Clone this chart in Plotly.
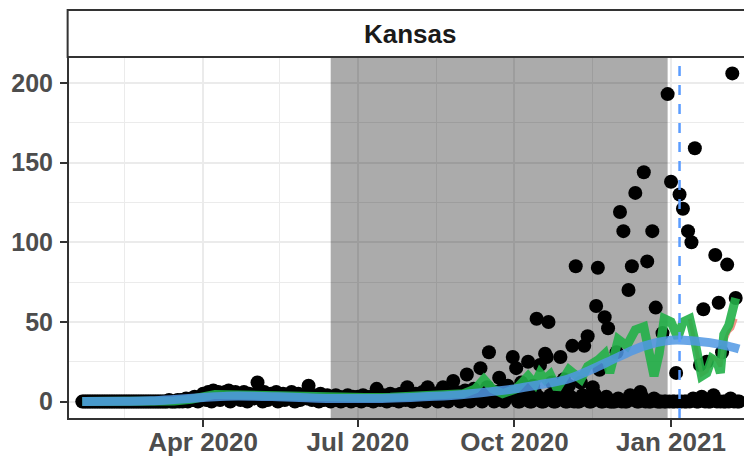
import pandas as pd
import plotly.graph_objects as go

# ---------------- data ----------------
jan20 = [0,0,0,0,0,0,0,0,0,0,0]
feb20 = [0,0,0,0,0,0,0,0,0,0,0,0,0,0,0,0,0,0,0,0,0,0,0,0,0,0,0,0,0]
mar20 = [0,0,0,0,0,0,0,0,0,0,0,1,0,0,0,0,1,0,1,0,1,2,0,1,2,1,3,2,0,2,3]
apr20 = [5,4,1,6,3,0,7,2,4,6,1,5,4,6,2,7,0,3,4,6,2,5,1,4,6,3,0,5,4,3]
may20 = [2,5,12,3,4,0,6,3,1,4,5,2,3,6,0,4,3,5,1,4,3,2,6,4,0,3,5,1,4,2,3]
jun20 = [2,10,3,1,4,2,3,0,5,2,1,3,4,2,0,3,1,4,2,3,0,2,1,3,4,2,0,3,2,1]
jul20 = [3,1,0,4,2,3,1,2,3,0,4,8,2,1,3,4,2,0,3,5,2,1,4,3,0,5,2,3,1,9,2]
aug20 = [3,0,4,5,2,1,3,6,2,0,9,4,2,3,5,1,0,6,4,9,2,3,0,5,4,13,2,6,3,0,5]
sep20 = [4,7,17,2,0,3,8,6,2,5,21,0,4,3,9,31,5,2,0,6,4,15,3,8,0,2,10,5,4,28]
oct20 = [4,21,0,0,12,3,8,2,25,0,0,10,6,52,3,23,0,0,30,28,50,4,12,0,0,8,5,28,6,14,0]
nov20 = [0,10,3,35,0,85,0,0,12,4,35,2,41,0,0,9,5,60,84,20,0,0,53,3,46,0,0,0,0,31]
dec20 = [2,119,0,107,0,0,70,4,85,2,131,0,0,6,3,144,0,88,0,0,107,2,59,0,0,0,43,0,0,193,0]
jan21 = [138,0,0,18,0,130,0,121,0,0,107,0,100,2,159,0,0,23,3,58,0,25,0,0,2,4,92,0,62,0,31]
feb21 = [0,0,86,0,2,206,0,65,0,0]

daily_vals = (jan20 + feb20 + mar20 + apr20 + may20 + jun20 + jul20 + aug20 +
              sep20 + oct20 + nov20 + dec20 + jan21 + feb21)
daily_dates = pd.date_range("2020-01-21", "2021-02-10", freq="D")

green_dates = ["2020-01-21","2020-03-05","2020-03-15","2020-03-25","2020-04-01","2020-04-08",
               "2020-04-15","2020-04-25","2020-05-05","2020-05-15","2020-05-25","2020-06-05",
               "2020-06-20","2020-07-05","2020-07-20","2020-08-01","2020-08-15","2020-08-25",
               "2020-09-01","2020-09-08","2020-09-13","2020-09-18","2020-09-24","2020-10-02",
               "2020-10-09","2020-10-13","2020-10-16","2020-10-19","2020-10-22","2020-10-26",
               "2020-11-02","2020-11-09","2020-11-13","2020-11-19","2020-11-23","2020-11-26",
               "2020-12-01","2020-12-06","2020-12-11","2020-12-16","2020-12-19","2020-12-22",
               "2020-12-25","2020-12-28","2021-01-01","2021-01-05","2021-01-08","2021-01-12",
               "2021-01-15","2021-01-19","2021-01-22","2021-01-25","2021-01-28","2021-01-30",
               "2021-02-01","2021-02-04","2021-02-08"]
green_vals = [0,0,0.4,1.5,3,4.5,
              4.3,4,4.5,3.5,3.2,3,
              2,2.5,2.8,3.5,4,5,
              5,8,14,8,5,8,
              16,11,18,14,17,8,
              20,14,22,26,30,18,
              39,35,45,47,30,16,
              30,52,50,40,50,52,
              38,16,18,27,25,18,
              42,48,65]

salmon_dates = ["2021-01-12","2021-01-15","2021-01-19","2021-01-22","2021-01-25","2021-01-28",
                "2021-01-30","2021-02-01","2021-02-04","2021-02-06","2021-02-08"]
salmon_vals = [52,38,17,19,28,26,22,36,44,46,52]

blue_dates = ["2020-01-21","2020-02-15","2020-03-01","2020-03-15","2020-04-01","2020-04-15",
              "2020-05-01","2020-05-15","2020-06-01","2020-06-15","2020-07-01","2020-07-15",
              "2020-08-01","2020-08-15","2020-09-01","2020-09-15","2020-10-01","2020-10-15",
              "2020-11-01","2020-11-15","2020-12-01","2020-12-15","2021-01-01","2021-01-15",
              "2021-02-01","2021-02-10"]
blue_vals = [0,0.2,0.5,1.3,2.5,3.4,
             3.4,3,2.4,2,1.9,2,
             2.6,3.3,4.5,6,8,10.5,
             14,20,28,34.5,38.5,38,
             35.5,33]

shade_start, shade_end = "2020-06-15", "2020-12-30"
vline_date = "2021-01-06"
panel_title = "Kansas"

x_range = ["2020-01-13 05:00", "2021-02-17 14:00"]
y_range = [-10.3, 216.3]
x_tickvals = ["2020-04-01", "2020-07-01", "2020-10-01", "2021-01-01"]
x_ticktext = ["Apr 2020", "Jul 2020", "Oct 2020", "Jan 2021"]
x_minor = ["2020-02-15", "2020-05-16", "2020-08-16", "2020-11-16"]
y_tickvals = [0, 50, 100, 150, 200]
y_minor = [25, 75, 125, 175]

# ---------------- figure ----------------
FONT = "Liberation Sans, Arial, sans-serif"
fig = go.Figure()

# shaded period (semi-transparent, above the grid)
fig.add_trace(go.Scatter(x=[shade_start, shade_end, shade_end, shade_start, shade_start],
                         y=[y_range[0], y_range[0], y_range[1], y_range[1], y_range[0]],
                         mode="lines", fill="toself", fillcolor="rgba(0,0,0,0.33)",
                         line=dict(width=0), hoverinfo="skip", showlegend=False))

fig.add_trace(go.Scatter(x=daily_dates, y=daily_vals, mode="markers",
                         marker=dict(color="black", size=14, line=dict(width=0)),
                         hoverinfo="skip", showlegend=False))
fig.add_trace(go.Scatter(x=salmon_dates, y=salmon_vals, mode="lines",
                         line=dict(color="rgba(240,128,114,0.85)", width=4),
                         showlegend=False))
fig.add_trace(go.Scatter(x=green_dates, y=green_vals, mode="lines",
                         line=dict(color="rgba(34,176,72,0.9)", width=9),
                         showlegend=False))
fig.add_trace(go.Scatter(x=blue_dates, y=blue_vals, mode="lines", line_shape="spline",
                         line=dict(color="rgba(80,152,228,0.85)", width=9),
                         showlegend=False))

fig.add_shape(type="line", xref="x", yref="paper", x0=vline_date, x1=vline_date,
              y0=0, y1=1, line=dict(color="#5a9cff", width=2.5, dash="10px,9px"), layer="above")

# facet strip
fig.add_shape(type="rect", xref="paper", yref="paper", x0=-0.002, x1=1.02,
              y0=1.0, y1=1 + 47/361, fillcolor="white",
              line=dict(color="#333333", width=2), layer="above")
fig.add_annotation(x=0.5, y=1 + 23.5/361, xref="paper", yref="paper",
                   xanchor="center", yanchor="middle",
                   text=panel_title, showarrow=False,
                   font=dict(family=FONT, size=26, color="#1a1a1a", weight="bold"))

xfont = dict(family=FONT, size=26, color="#4d4d4d", weight="bold")
yfont = dict(family=FONT, size=25, color="#4d4d4d", weight="bold")
fig.update_xaxes(type="date", range=x_range, automargin=False,
                 tickmode="array", tickvals=x_tickvals, ticktext=x_ticktext,
                 tickfont=xfont, ticks="outside", ticklen=7, tickwidth=2,
                 ticklabelstandoff=-7,
                 tickcolor="#333333", showline=True, linecolor="#333333", linewidth=2,
                 showgrid=True, gridcolor="#ebebeb", gridwidth=2, zeroline=False,
                 minor=dict(tickmode="array", tickvals=x_minor, showgrid=True,
                            gridcolor="#ebebeb", gridwidth=1, ticks=""))
fig.update_yaxes(range=y_range, automargin=False, tickmode="array", tickvals=y_tickvals,
                 tickfont=yfont, ticks="outside", ticklen=7, tickwidth=2,
                 ticklabelstandoff=2,
                 tickcolor="#333333", showline=True, linecolor="#333333", linewidth=2,
                 showgrid=True, gridcolor="#ebebeb", gridwidth=2, zeroline=False,
                 minor=dict(tickmode="array", tickvals=y_minor, showgrid=True,
                            gridcolor="#ebebeb", gridwidth=1, ticks=""))

# the page adds an 8px body margin, so the figure is 8px smaller than the window
fig.update_layout(width=744, height=448, margin=dict(l=61, r=0, t=49, b=38),
                  paper_bgcolor="white", plot_bgcolor="white", showlegend=False,
                  font=dict(family=FONT))

fig.write_html("out.html")
